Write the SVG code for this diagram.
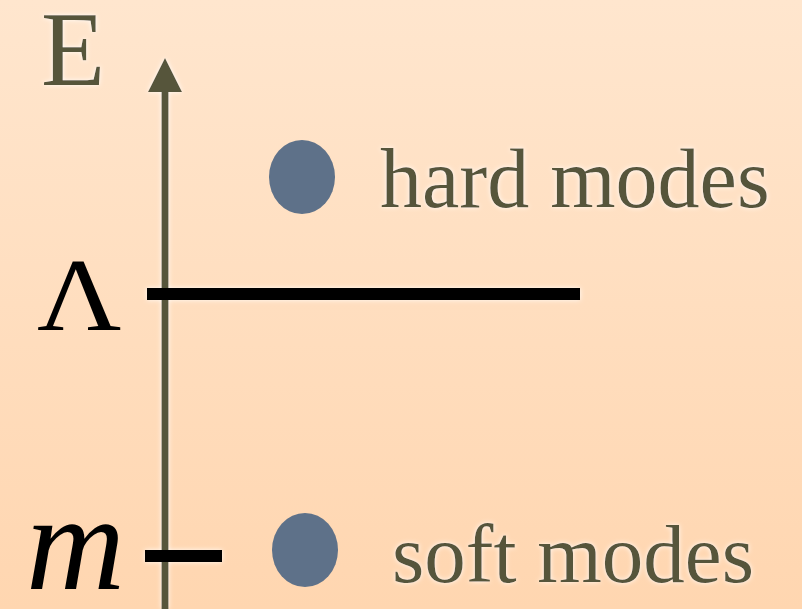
<svg xmlns="http://www.w3.org/2000/svg" width="802" height="609" viewBox="0 0 802 609">
<defs>
<linearGradient id="bg" x1="0" y1="0" x2="0" y2="1">
<stop offset="0" stop-color="#FFE6CE"/>
<stop offset="1" stop-color="#FFD6B0"/>
</linearGradient>
<filter id="glow" filterUnits="userSpaceOnUse" x="0" y="0" width="802" height="609">
<feGaussianBlur in="SourceAlpha" stdDeviation="2.5" result="b"/>
<feFlood flood-color="#FFFFFF" flood-opacity="0.9"/>
<feComposite in2="b" operator="in" result="g"/>
<feMerge><feMergeNode in="g"/><feMergeNode in="SourceGraphic"/></feMerge>
</filter>
</defs>
<style>
.lbl{font-family:"Liberation Serif","Times New Roman",serif;fill:#57543A}
.sym{font-family:"Liberation Serif","Times New Roman",serif;fill:#000}
.dot{fill:#5E7189}
.lvl{stroke:#000;stroke-width:12}
</style>
<rect width="802" height="609" fill="url(#bg)"/>
<g id="connectors" filter="url(#glow)">
<line x1="165" y1="609" x2="165" y2="90" stroke="#57543A" stroke-width="7"/>
<path d="M148,92 L165,58 L182,92 Z" fill="#57543A"/>
<line class="lvl" x1="147" y1="294" x2="580" y2="294"/>
<line class="lvl" x1="145" y1="556" x2="222" y2="556"/>
</g>
<g id="axis-label" filter="url(#glow)"><text class="lbl" x="41" y="85" font-size="105">E</text></g>
<g id="lambda"><text class="sym" transform="translate(37,330) scale(1.12,1)" x="0" y="0" font-size="104">Λ</text></g>
<g id="m"><text class="sym" x="26" y="589" font-size="137" font-style="italic">m</text></g>
<g id="hard"><ellipse class="dot" cx="302" cy="177" rx="33" ry="37"/><text class="lbl" x="380" y="207" font-size="84" filter="url(#glow)">hard modes</text></g>
<g id="soft"><ellipse class="dot" cx="305" cy="550" rx="33" ry="37"/><text class="lbl" x="392" y="582" font-size="83" filter="url(#glow)">soft modes</text></g>
</svg>
